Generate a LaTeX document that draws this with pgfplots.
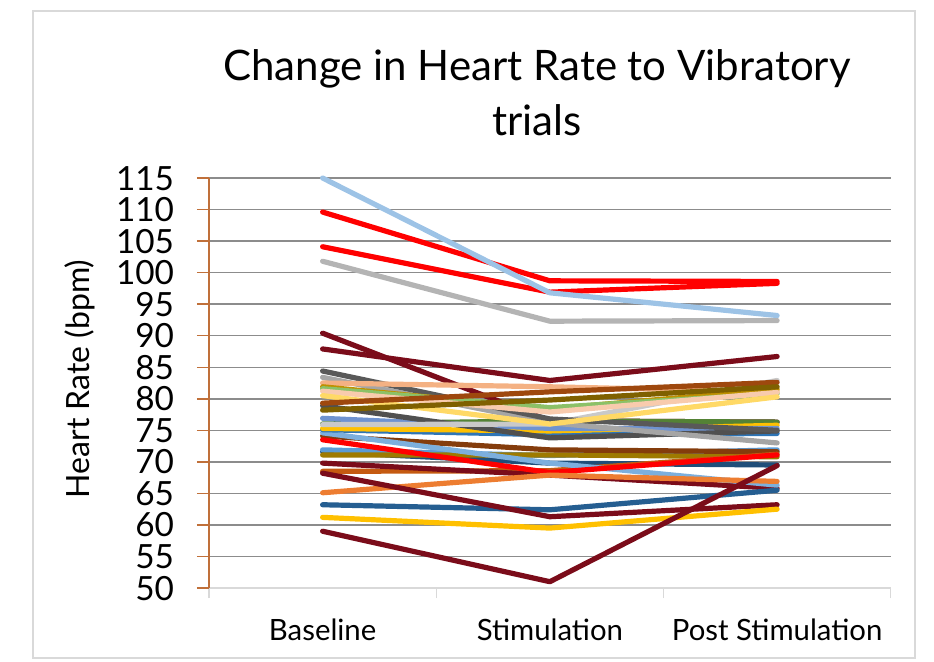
\documentclass[border=0pt]{standalone}
\usepackage{fontspec}
\setmainfont{Lato}
\usepackage{pgfplots}
\pgfplotsset{compat=1.18}
\definecolor{mar}{HTML}{7B0C1A}
\definecolor{frm}{HTML}{D9D9D9}
\definecolor{grd}{HTML}{8C8C8C}
\definecolor{yax}{HTML}{C0703A}
\begin{document}
\begin{tikzpicture}[x=1pt,y=1pt]
\path[use as bounding box] (0,0) rectangle (700.5,495.75);
\draw[color=frm, line width=1.1pt] (24.75,2.25) rectangle (686.25,487.5);
\node[anchor=base, font=\fontsize{31.5}{38}\selectfont] at (402.75,435.5) {Change in Heart Rate to Vibratory};
\node[anchor=base, font=\fontsize{31.5}{38}\selectfont] at (402.75,393.75) {trials};
\node[rotate=90, font=\fontsize{24}{28}\selectfont] at (60,211.5) {Heart Rate (bpm)};
\begin{axis}[
  at={(156.75pt,54.75pt)}, anchor=south west, scale only axis,
  width=511.3pt, height=307.5pt,
  xmin=0, xmax=3, ymin=50, ymax=115,
  axis x line*=bottom, axis y line*=left,
  x axis line style={color=frm, line width=1.1pt, -},
  y axis line style={color=yax, line width=1.1pt, -},
  ytick={55,60,...,115},
  extra y ticks={50}, extra y tick style={grid=none},
  ymajorgrids, y grid style={color=grd, line width=1.1pt},
  xtick={0.5,1.5,2.5},
  xticklabels={Baseline,Stimulation,Post Stimulation},
  minor xtick={0,1,2,3},
  tick align=outside,
  major tick length=9pt, minor tick length=7.5pt,
  major x tick style={draw=none},
  minor x tick style={color=frm, line width=1.1pt},
  ytick style={color=yax, line width=1.1pt},
  /pgf/number format/assume math mode=true,
  yticklabel style={font=\fontsize{25}{27}\selectfont, inner sep=0pt, text height=18pt, text depth=0pt, xshift=-17pt},
  xticklabel style={font=\fontsize{22}{26}\selectfont, anchor=base, yshift=-30pt},
  every axis plot/.append style={line width=3.9pt, line join=round, line cap=round, mark=none},
  clip=false,
]
\addplot[color=mar] coordinates {(0.5,90.4) (1.5,76.5) (2.5,76.3)};
\addplot[color={rgb,255:red,84;green,130;blue,53}] coordinates {(0.5,76.0) (1.5,76.5) (2.5,76.3)};
\addplot[color={rgb,255:red,31;green,78;blue,121}] coordinates {(0.5,71.6) (1.5,69.8) (2.5,69.5)};
\addplot[color={rgb,255:red,91;green,155;blue,213}] coordinates {(0.5,71.9) (1.5,71.0) (2.5,71.9)};
\addplot[color={rgb,255:red,158;green,122;blue,0}] coordinates {(0.5,71.1) (1.5,71.1) (2.5,70.8)};
\addplot[color={rgb,255:red,132;green,60;blue,12}] coordinates {(0.5,74.1) (1.5,71.9) (2.5,71.6)};
\addplot[color={rgb,255:red,197;green,90;blue,17}] coordinates {(0.5,68.5) (1.5,68.6) (2.5,71.2)};
\addplot[color=mar] coordinates {(0.5,69.8) (1.5,67.9) (2.5,65.8)};
\addplot[color={rgb,255:red,124;green,175;blue,221}] coordinates {(0.5,74.6) (1.5,69.8) (2.5,66.3)};
\addplot[color=red] coordinates {(0.5,73.5) (1.5,68.3) (2.5,71.1)};
\addplot[color={rgb,255:red,237;green,125;blue,49}] coordinates {(0.5,65.1) (1.5,67.9) (2.5,66.9)};
\addplot[color={rgb,255:red,37;green,94;blue,145}] coordinates {(0.5,63.2) (1.5,62.4) (2.5,65.5)};
\addplot[color=mar] coordinates {(0.5,68.2) (1.5,61.3) (2.5,63.2)};
\addplot[color={rgb,255:red,255;green,192;blue,0}] coordinates {(0.5,61.2) (1.5,59.5) (2.5,62.5)};
\addplot[color=mar] coordinates {(0.5,59.0) (1.5,51.0) (2.5,69.4)};
\addplot[color={rgb,255:red,46;green,117;blue,182}] coordinates {(0.5,75.1) (1.5,74.3) (2.5,74.5)};
\addplot[color={rgb,255:red,255;green,192;blue,0}] coordinates {(0.5,75.3) (1.5,74.9) (2.5,75.8)};
\addplot[color={rgb,255:red,111;green,147;blue,208}] coordinates {(0.5,76.9) (1.5,75.3) (2.5,75.3)};
\addplot[color={rgb,255:red,80;green,80;blue,80}] coordinates {(0.5,78.9) (1.5,73.8) (2.5,74.9)};
\addplot[color={rgb,255:red,201;green,201;blue,201}] coordinates {(0.5,75.9) (1.5,76.0) (2.5,82.9)};
\addplot[color={rgb,255:red,165;green,165;blue,165}] coordinates {(0.5,83.4) (1.5,76.2) (2.5,73.0)};
\addplot[color={rgb,255:red,89;green,89;blue,89}] coordinates {(0.5,84.4) (1.5,76.8) (2.5,75.0)};
\addplot[color={rgb,255:red,244;green,177;blue,131}] coordinates {(0.5,82.5) (1.5,81.9) (2.5,81.1)};
\addplot[color={rgb,255:red,191;green,144;blue,0}] coordinates {(0.5,81.9) (1.5,78.4) (2.5,81.5)};
\addplot[color={rgb,255:red,140;green,193;blue,104}] coordinates {(0.5,81.6) (1.5,78.6) (2.5,80.8)};
\addplot[color={rgb,255:red,248;green,203;blue,173}] coordinates {(0.5,81.2) (1.5,77.9) (2.5,81.0)};
\addplot[color={rgb,255:red,255;green,217;blue,102}] coordinates {(0.5,80.5) (1.5,76.0) (2.5,80.3)};
\addplot[color={rgb,255:red,158;green,72;blue,14}] coordinates {(0.5,79.3) (1.5,81.1) (2.5,82.6)};
\addplot[color={rgb,255:red,127;green,96;blue,0}] coordinates {(0.5,78.2) (1.5,79.8) (2.5,81.9)};
\addplot[color=mar] coordinates {(0.5,87.9) (1.5,82.9) (2.5,86.7)};
\addplot[color={rgb,255:red,180;green,180;blue,180}] coordinates {(0.5,101.8) (1.5,92.3) (2.5,92.4)};
\addplot[color=red] coordinates {(0.5,104.1) (1.5,96.9) (2.5,98.3)};
\addplot[color=red] coordinates {(0.5,109.6) (1.5,98.7) (2.5,98.6)};
\addplot[color={rgb,255:red,157;green,195;blue,230}] coordinates {(0.5,115.0) (1.5,96.8) (2.5,93.2)};
\end{axis}
\end{tikzpicture}
\end{document}
